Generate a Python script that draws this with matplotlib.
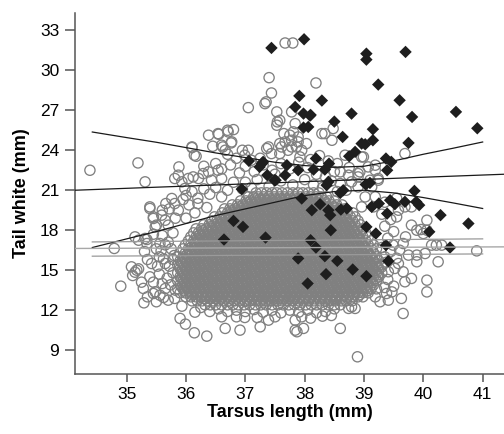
import numpy as np
import matplotlib.pyplot as plt

plt.rcParams['font.family'] = ['Liberation Sans', 'DejaVu Sans']

# black diamonds (group 1)
dark_x = [37.44, 37.99, 39.04, 39.04, 39.70, 39.24, 37.91, 38.29, 37.84, 39.60,
          37.98, 38.10, 38.79, 39.81, 40.55, 38.50, 37.98, 40.91, 39.15, 38.64,
          39.15, 39.02, 39.75, 38.85, 38.75, 38.19, 37.06, 37.30, 37.24, 37.70,
          37.89, 38.41, 38.34, 39.37, 39.46, 39.39, 38.15, 37.37, 37.51, 37.67,
          38.40, 38.37, 36.94, 39.03, 39.10, 38.60, 38.65, 39.85, 37.95, 39.44,
          39.52, 39.69, 39.88, 39.93, 39.25, 39.13, 39.39, 38.12, 38.26, 38.40,
          38.43, 38.61, 38.71, 36.80, 36.96, 36.64, 37.34, 38.44, 39.04, 39.20,
          40.10, 40.29, 40.76, 38.10, 38.19, 39.37, 40.45, 38.34, 37.89, 38.55,
          39.41, 38.81, 38.36, 39.04, 38.05, 38.09, 38.06, 38.96, 37.28, 37.49]
dark_y = [31.68, 32.33, 31.25, 30.80, 31.38, 28.93, 28.08, 27.73, 27.25, 27.75,
          26.75, 26.65, 26.75, 26.50, 26.88, 26.15, 25.70, 25.65, 25.58, 25.00,
          24.75, 24.45, 24.55, 23.88, 23.55, 23.38, 23.20, 23.13, 22.75, 22.88,
          22.50, 23.00, 22.55, 23.38, 23.13, 22.50, 22.55, 22.13, 21.75, 22.13,
          21.63, 21.38, 21.08, 21.43, 21.55, 20.80, 21.00, 20.95, 20.38, 20.25,
          19.95, 20.13, 20.13, 19.88, 20.00, 19.75, 19.25, 19.50, 19.95, 19.50,
          19.13, 19.55, 19.63, 18.70, 18.25, 17.30, 17.45, 18.00, 18.25, 17.75,
          17.88, 19.13, 18.50, 17.25, 16.70, 16.88, 16.70, 16.05, 15.88, 15.70,
          15.68, 15.05, 14.70, 14.55, 14.00, 26.60, 25.75, 24.50, 23.00, 21.75]

# grey open circles (group 2), scattered edge of the cloud
grey_x = [34.38, 35.19, 35.31, 34.79, 34.90,
          35.08, 35.10, 35.17, 35.20, 35.14, 35.28, 35.29, 35.39, 35.42, 35.50,
          35.58, 35.55, 35.62, 35.65, 35.48, 35.45, 35.56, 35.50, 35.65, 35.70,
          35.81, 35.93, 35.20, 35.34, 35.34, 35.14, 35.39, 35.45, 35.59, 35.65,
          35.50, 35.70, 35.76, 35.81, 35.87, 35.31, 35.48, 35.39, 35.45,
          35.60, 35.70, 35.75, 35.80, 35.72, 35.78, 35.68, 35.74, 35.60, 35.55,
          35.82, 35.62, 35.78, 35.82, 35.72, 35.66, 35.56, 35.45, 35.52, 35.35,
          35.30, 35.45, 35.25, 35.35, 35.60, 35.78, 35.65,
          36.38, 36.55, 36.70, 36.80, 36.10, 36.14, 36.60, 36.62, 36.76, 35.88,
          35.81, 35.87, 35.93, 35.98, 36.04, 36.12, 36.21, 36.29, 36.38, 36.43,
          36.54, 36.60, 36.00, 36.10, 36.20, 36.30, 36.40, 36.50, 36.60, 36.70,
          36.80, 36.90, 36.75, 36.50, 36.30, 36.85, 36.20, 36.35, 36.05, 35.95,
          36.15, 36.00, 36.60, 36.70, 36.95, 36.45, 36.10, 36.17,
          36.54, 36.71, 36.77, 36.66, 37.05, 36.99, 37.10, 37.58, 37.53, 37.84,
          37.75, 37.67, 37.39, 37.44, 37.58, 37.61, 37.78, 37.89, 37.95, 38.03,
          38.29, 38.46, 37.53, 37.05, 37.35, 37.40, 37.44, 37.33, 37.67, 37.80,
          38.19, 37.54, 37.78, 37.65, 37.81, 37.89, 37.78, 38.34, 38.48, 37.36,
          37.58, 37.72, 37.86, 37.92, 38.68, 38.99, 39.19, 39.69, 38.60, 38.74,
          38.90, 39.10, 39.24, 38.90, 38.79, 38.90,
          37.00, 37.15, 37.30, 37.45, 37.60, 37.75, 37.90, 38.05, 38.20, 38.35,
          38.50, 38.45, 38.60, 38.70, 37.00, 37.20, 37.40, 37.60, 37.80, 38.00,
          38.15, 38.30, 36.95, 37.10, 38.55, 37.25, 37.50, 38.10, 38.25, 38.40,
          38.55, 38.75,
          38.96, 39.07, 38.93, 39.19, 39.24, 39.13, 39.02, 39.19, 38.96, 39.16,
          39.58, 39.69, 39.80, 39.89, 40.06, 40.06, 39.96, 40.00, 39.80,
          40.90, 40.25, 39.89, 39.89, 40.03, 39.75, 39.66, 40.14, 40.31, 39.49,
          40.06, 40.06, 39.80, 39.69, 39.63, 39.66, 39.47, 39.38, 39.41, 39.27,
          39.19, 39.52, 39.41, 39.30, 39.58, 38.85, 38.89, 39.66, 40.22,
          39.35, 39.45, 39.40, 39.50, 39.35, 39.45, 39.30, 39.55, 39.35, 39.55,
          39.40, 39.50, 39.35, 39.60, 39.55, 39.70, 39.30, 39.38, 38.79, 38.74,
          35.90, 35.99, 36.14, 36.35, 36.60, 36.66, 36.85, 36.99, 36.91, 37.25,
          37.39, 37.84, 37.84, 37.98, 38.60, 37.87,
          36.40, 36.55, 36.70, 36.85, 37.00, 37.15, 37.30, 37.45, 37.60, 37.75,
          37.90, 38.05, 38.20, 38.35, 38.50, 38.30, 38.45, 36.25, 36.15, 37.20,
          37.50, 37.95, 38.10]
grey_y = [22.50, 23.05, 21.63, 16.63, 13.80,
          15.25, 14.60, 15.00, 15.10, 14.85, 13.63, 12.55, 14.50, 15.50, 16.60,
          16.45, 16.00, 15.85, 15.50, 13.37, 13.25, 13.12, 12.63, 13.62, 12.75,
          12.88, 12.30, 17.25, 17.30, 17.00, 17.50, 19.63, 18.88, 19.13, 18.75,
          18.38, 18.38, 20.38, 20.00, 19.50, 17.38, 18.25, 19.75, 19.00,
          17.60, 17.10, 16.60, 16.10, 15.30, 14.80, 14.40, 13.90, 14.00, 14.70,
          13.50, 12.95, 17.80, 18.90, 19.60, 20.00, 17.00, 17.70, 15.30, 15.80,
          16.40, 14.10, 14.10, 13.00, 19.50, 15.80, 16.90,
          25.13, 25.20, 25.50, 25.55, 24.20, 23.63, 24.38, 24.25, 24.55, 22.75,
          21.88, 22.13, 21.63, 21.13, 21.88, 22.00, 21.88, 22.25, 22.38, 21.75,
          22.50, 21.88, 20.60, 20.90, 20.40, 21.10, 20.70, 21.20, 20.50, 21.00,
          21.60, 22.30, 22.90, 23.00, 22.80, 23.40, 20.00, 19.70, 19.90, 20.30,
          19.30, 18.90, 22.60, 23.70, 24.00, 24.30, 24.25, 23.55,
          25.25, 25.38, 24.63, 24.00, 24.00, 23.63, 23.25, 26.25, 25.88, 26.00,
          25.13, 24.63, 24.25, 23.75, 23.75, 24.25, 24.25, 24.63, 24.00, 24.50,
          25.25, 24.75, 26.88, 27.20, 27.63, 29.45, 28.30, 27.50, 32.05, 32.05,
          29.05, 26.13, 26.88, 25.25, 25.38, 25.00, 24.75, 25.25, 25.63, 24.13,
          24.50, 24.00, 24.25, 23.50, 23.63, 23.50, 22.88, 23.75, 22.38, 22.13,
          22.25, 21.75, 21.88, 22.00, 21.63, 21.25,
          22.80, 22.40, 22.90, 22.50, 23.00, 22.60, 23.10, 22.70, 22.20, 22.00,
          22.40, 21.70, 21.50, 21.00, 21.60, 21.80, 21.30, 21.70, 21.40, 21.80,
          21.40, 21.20, 21.10, 21.20, 20.90, 23.40, 22.20, 23.30, 23.60, 23.20,
          23.00, 22.70,
          23.50, 22.75, 22.38, 22.50, 21.75, 21.25, 20.50, 20.50, 19.75, 19.75,
          19.50, 19.75, 18.38, 18.00, 18.75, 18.00, 18.05, 17.75, 19.75,
          16.45, 15.63, 15.63, 16.13, 16.25, 16.13, 17.00, 16.88, 16.88, 16.88,
          14.25, 13.37, 14.38, 14.13, 12.88, 11.75, 13.37, 13.25, 12.75, 12.63,
          13.00, 15.13, 14.88, 15.25, 15.50, 12.13, 8.50, 14.88, 16.88,
          16.00, 16.40, 17.40, 17.90, 18.30, 18.80, 19.20, 19.00, 20.10, 20.40,
          14.30, 13.80, 13.70, 16.50, 15.90, 17.50, 16.70, 15.60, 12.25, 12.13,
          11.38, 10.95, 10.30, 10.05, 11.50, 10.63, 11.50, 11.45, 10.50, 10.75,
          11.25, 10.50, 11.25, 10.63, 10.63, 10.38,
          11.90, 12.10, 11.90, 12.00, 11.90, 12.05, 11.85, 12.00, 11.80, 12.00,
          11.85, 12.00, 11.80, 11.90, 12.10, 11.55, 11.60, 12.20, 11.85, 11.45,
          11.50, 11.50, 11.40]

# grey open circles, dense centre of the cloud (one row per y value)
core_y = [12.4, 12.7, 13.0, 13.3, 13.6, 13.9, 14.2, 14.5, 14.8, 15.1,
          15.4, 15.7, 16.0, 16.3, 16.6, 16.9, 17.2, 17.5, 17.8, 18.1,
          18.4, 18.7, 19.0, 19.3, 19.6, 19.9, 20.2, 20.5, 20.8]
core_x = [
    [36.32, 36.41, 36.5, 36.6, 36.7, 36.79, 36.88, 36.98, 37.07, 37.17, 37.26, 37.35, 37.45, 37.55,
     37.64, 37.73, 37.83, 37.92, 38.02, 38.11, 38.2, 38.3, 38.4, 38.5, 38.6],
    [36.1, 36.19, 36.27, 36.36, 36.46, 36.55, 36.63, 36.72, 36.82, 36.9, 36.99, 37.08, 37.18, 37.26,
     37.35, 37.44, 37.54, 37.62, 37.71, 37.8, 37.9, 37.98, 38.07, 38.16, 38.26, 38.34, 38.43, 38.52,
     38.62, 38.7, 38.8],
    [36.0, 36.08, 36.17, 36.26, 36.34, 36.43, 36.52, 36.61, 36.7, 36.78, 36.87, 36.96, 37.05, 37.14,
     37.22, 37.31, 37.4, 37.49, 37.58, 37.66, 37.75, 37.84, 37.93, 38.02, 38.1, 38.19, 38.28, 38.37,
     38.46, 38.54, 38.63, 38.72, 38.81, 38.9, 38.98],
    [35.9, 35.99, 36.08, 36.17, 36.26, 36.34, 36.43, 36.52, 36.61, 36.7, 36.78, 36.87, 36.96, 37.05,
     37.14, 37.22, 37.31, 37.4, 37.49, 37.58, 37.66, 37.75, 37.84, 37.93, 38.02, 38.1, 38.19, 38.28,
     38.37, 38.46, 38.54, 38.63, 38.72, 38.81, 38.9, 38.98, 39.07],
    [35.86, 35.95, 36.04, 36.13, 36.21, 36.3, 36.39, 36.48, 36.57, 36.65, 36.74, 36.83, 36.92, 37.01,
     37.09, 37.18, 37.27, 37.36, 37.45, 37.53, 37.62, 37.71, 37.8, 37.89, 37.97, 38.06, 38.15, 38.24,
     38.33, 38.41, 38.5, 38.59, 38.68, 38.77, 38.85, 38.94, 39.03, 39.12, 39.21],
    [35.9, 35.99, 36.08, 36.17, 36.26, 36.34, 36.43, 36.52, 36.61, 36.7, 36.78, 36.87, 36.96, 37.05,
     37.14, 37.22, 37.31, 37.4, 37.49, 37.58, 37.66, 37.75, 37.84, 37.93, 38.02, 38.1, 38.19, 38.28,
     38.37, 38.46, 38.54, 38.63, 38.72, 38.81, 38.9, 38.98, 39.07, 39.16],
    [35.86, 35.95, 36.04, 36.13, 36.21, 36.3, 36.39, 36.48, 36.57, 36.65, 36.74, 36.83, 36.92, 37.01,
     37.09, 37.18, 37.27, 37.36, 37.45, 37.53, 37.62, 37.71, 37.8, 37.89, 37.97, 38.06, 38.15, 38.24,
     38.33, 38.41, 38.5, 38.59, 38.68, 38.77, 38.85, 38.94, 39.03, 39.12, 39.21],
    [35.9, 35.99, 36.08, 36.17, 36.26, 36.34, 36.43, 36.52, 36.61, 36.7, 36.78, 36.87, 36.96, 37.05,
     37.14, 37.22, 37.31, 37.4, 37.49, 37.58, 37.66, 37.75, 37.84, 37.93, 38.02, 38.1, 38.19, 38.28,
     38.37, 38.46, 38.54, 38.63, 38.72, 38.81, 38.9, 38.98, 39.07, 39.16, 39.25],
    [35.86, 35.95, 36.04, 36.13, 36.21, 36.3, 36.39, 36.48, 36.57, 36.65, 36.74, 36.83, 36.92, 37.01,
     37.09, 37.18, 37.27, 37.36, 37.45, 37.53, 37.62, 37.71, 37.8, 37.89, 37.97, 38.06, 38.15, 38.24,
     38.33, 38.41, 38.5, 38.59, 38.68, 38.77, 38.85, 38.94, 39.03, 39.12, 39.21, 39.3],
    [35.9, 35.99, 36.08, 36.17, 36.26, 36.34, 36.43, 36.52, 36.61, 36.7, 36.78, 36.87, 36.96, 37.05,
     37.14, 37.22, 37.31, 37.4, 37.49, 37.58, 37.66, 37.75, 37.84, 37.93, 38.02, 38.1, 38.19, 38.28,
     38.37, 38.46, 38.54, 38.63, 38.72, 38.81, 38.9, 38.98, 39.07, 39.16, 39.25],
    [35.86, 35.95, 36.04, 36.13, 36.21, 36.3, 36.39, 36.48, 36.57, 36.65, 36.74, 36.83, 36.92, 37.01,
     37.09, 37.18, 37.27, 37.36, 37.45, 37.53, 37.62, 37.71, 37.8, 37.89, 37.97, 38.06, 38.15, 38.24,
     38.33, 38.41, 38.5, 38.59, 38.68, 38.77, 38.85, 38.94, 39.03, 39.12, 39.21, 39.3],
    [35.9, 35.99, 36.08, 36.17, 36.26, 36.34, 36.43, 36.52, 36.61, 36.7, 36.78, 36.87, 36.96, 37.05,
     37.14, 37.22, 37.31, 37.4, 37.49, 37.58, 37.66, 37.75, 37.84, 37.93, 38.02, 38.1, 38.19, 38.28,
     38.37, 38.46, 38.54, 38.63, 38.72, 38.81, 38.9, 38.98, 39.07, 39.16, 39.25],
    [35.86, 35.95, 36.04, 36.13, 36.21, 36.3, 36.39, 36.48, 36.57, 36.65, 36.74, 36.83, 36.92, 37.01,
     37.09, 37.18, 37.27, 37.36, 37.45, 37.53, 37.62, 37.71, 37.8, 37.89, 37.97, 38.06, 38.15, 38.24,
     38.33, 38.41, 38.5, 38.59, 38.68, 38.77, 38.85, 38.94, 39.03, 39.12, 39.21],
    [35.9, 35.99, 36.08, 36.17, 36.26, 36.34, 36.43, 36.52, 36.61, 36.7, 36.78, 36.87, 36.96, 37.05,
     37.14, 37.22, 37.31, 37.4, 37.49, 37.58, 37.66, 37.75, 37.84, 37.93, 38.02, 38.1, 38.19, 38.28,
     38.37, 38.46, 38.54, 38.63, 38.72, 38.81, 38.9, 38.98, 39.07, 39.16],
    [35.95, 36.04, 36.13, 36.21, 36.3, 36.39, 36.48, 36.57, 36.65, 36.74, 36.83, 36.92, 37.01,
     37.09, 37.18, 37.27, 37.36, 37.45, 37.53, 37.62, 37.71, 37.8, 37.89, 37.97, 38.06, 38.15, 38.24,
     38.33, 38.41, 38.5, 38.59, 38.68, 38.77, 38.85, 38.94, 39.03, 39.12, 39.21],
    [35.99, 36.08, 36.17, 36.26, 36.34, 36.43, 36.52, 36.61, 36.7, 36.78, 36.87, 36.96, 37.05,
     37.14, 37.22, 37.31, 37.4, 37.49, 37.58, 37.66, 37.75, 37.84, 37.93, 38.02, 38.1, 38.19, 38.28,
     38.37, 38.46, 38.54, 38.63, 38.72, 38.81, 38.9, 38.98, 39.07, 39.16],
    [36.04, 36.13, 36.21, 36.3, 36.39, 36.48, 36.57, 36.65, 36.74, 36.83, 36.92, 37.01,
     37.09, 37.18, 37.27, 37.36, 37.45, 37.53, 37.62, 37.71, 37.8, 37.89, 37.97, 38.06, 38.15, 38.24,
     38.33, 38.41, 38.5, 38.59, 38.68, 38.77, 38.85, 38.94, 39.03, 39.12],
    [36.08, 36.17, 36.26, 36.34, 36.43, 36.52, 36.61, 36.7, 36.78, 36.87, 36.96, 37.05,
     37.14, 37.22, 37.31, 37.4, 37.49, 37.58, 37.66, 37.75, 37.84, 37.93, 38.02, 38.1, 38.19, 38.28,
     38.37, 38.46, 38.54, 38.63, 38.72, 38.81, 38.9, 38.98, 39.07],
    [36.13, 36.21, 36.3, 36.39, 36.48, 36.57, 36.65, 36.74, 36.83, 36.92, 37.01,
     37.09, 37.18, 37.27, 37.36, 37.45, 37.53, 37.62, 37.71, 37.8, 37.89, 37.97, 38.06, 38.15, 38.24,
     38.33, 38.41, 38.5, 38.59, 38.68, 38.77, 38.85, 38.94, 39.03],
    [36.17, 36.26, 36.34, 36.43, 36.52, 36.61, 36.7, 36.78, 36.87, 36.96, 37.05,
     37.14, 37.22, 37.31, 37.4, 37.49, 37.58, 37.66, 37.75, 37.84, 37.93, 38.02, 38.1, 38.19, 38.28,
     38.37, 38.46, 38.54, 38.63, 38.72, 38.81, 38.9, 38.98],
    [36.3, 36.39, 36.48, 36.57, 36.65, 36.74, 36.83, 36.92, 37.01,
     37.09, 37.18, 37.27, 37.36, 37.45, 37.53, 37.62, 37.71, 37.8, 37.89, 37.97, 38.06, 38.15, 38.24,
     38.33, 38.41, 38.5, 38.59, 38.68, 38.77, 38.85, 38.94],
    [36.43, 36.52, 36.61, 36.7, 36.78, 36.87, 36.96, 37.05,
     37.14, 37.22, 37.31, 37.4, 37.49, 37.58, 37.66, 37.75, 37.84, 37.93, 38.02, 38.1, 38.19, 38.28,
     38.37, 38.46, 38.54, 38.63, 38.72, 38.81, 38.9],
    [36.48, 36.57, 36.65, 36.74, 36.83, 36.92, 37.01,
     37.09, 37.18, 37.27, 37.36, 37.45, 37.53, 37.62, 37.71, 37.8, 37.89, 37.97, 38.06, 38.15, 38.24,
     38.33, 38.41, 38.5, 38.59, 38.68, 38.77, 38.85],
    [36.61, 36.7, 36.78, 36.87, 36.96, 37.05,
     37.14, 37.22, 37.31, 37.4, 37.49, 37.58, 37.66, 37.75, 37.84, 37.93, 38.02, 38.1, 38.19, 38.28,
     38.37, 38.46, 38.54, 38.63, 38.72, 38.81],
    [36.65, 36.74, 36.83, 36.92, 37.01,
     37.09, 37.18, 37.27, 37.36, 37.45, 37.53, 37.62, 37.71, 37.8, 37.89, 37.97, 38.06, 38.15, 38.24,
     38.33, 38.41, 38.5, 38.59, 38.68],
    [36.78, 36.87, 36.96, 37.05,
     37.14, 37.22, 37.31, 37.4, 37.49, 37.58, 37.66, 37.75, 37.84, 37.93, 38.02, 38.1, 38.19, 38.28,
     38.37, 38.46, 38.54, 38.63],
    [36.92, 37.01, 37.09, 37.18, 37.27, 37.36, 37.45, 37.53, 37.62, 37.71, 37.8, 37.89, 37.97, 38.06,
     38.15, 38.24, 38.33, 38.41, 38.5],
    [37.05, 37.14, 37.22, 37.31, 37.4, 37.49, 37.58, 37.66, 37.75, 37.84, 37.93, 38.02, 38.1, 38.19,
     38.28, 38.37],
    [37.18, 37.27, 37.36, 37.45, 37.53, 37.62, 37.71, 37.8, 37.89, 37.97, 38.06, 38.15, 38.24],
]

# second, interleaved layer of the dense centre
core2_y = [12.85, 13.15, 13.45, 13.75, 14.05, 14.35, 14.65, 14.95, 15.25, 15.55,
           15.85, 16.15, 16.45, 16.75, 17.05, 17.35, 17.65, 17.95, 18.25, 18.55,
           18.85, 19.15, 19.45, 19.75, 20.05, 20.35]
core2_x = [
    [36.32, 36.41, 36.5, 36.59, 36.67, 36.76, 36.85, 36.94, 37.03, 37.11, 37.2, 37.29, 37.38, 37.47,
     37.55, 37.64, 37.73, 37.82, 37.91, 37.99, 38.08, 38.17, 38.26, 38.35, 38.43, 38.52, 38.61],
    [36.1, 36.19, 36.28, 36.37, 36.45, 36.54, 36.63, 36.72, 36.81, 36.89, 36.98, 37.07, 37.16, 37.25,
     37.33, 37.42, 37.51, 37.6, 37.69, 37.77, 37.86, 37.95, 38.04, 38.13, 38.21, 38.3, 38.39, 38.48,
     38.57, 38.65, 38.74, 38.83, 38.92],
    [35.97, 36.06, 36.15, 36.23, 36.32, 36.41, 36.5, 36.59, 36.67, 36.76, 36.85, 36.94, 37.03, 37.11,
     37.2, 37.29, 37.38, 37.47, 37.55, 37.64, 37.73, 37.82, 37.91, 37.99, 38.08, 38.17, 38.26, 38.35,
     38.43, 38.52, 38.61, 38.7, 38.79, 38.87, 38.96, 39.05],
    [35.93, 36.02, 36.1, 36.19, 36.28, 36.37, 36.45, 36.54, 36.63, 36.72, 36.81, 36.89, 36.98, 37.07,
     37.16, 37.25, 37.33, 37.42, 37.51, 37.6, 37.69, 37.77, 37.86, 37.95, 38.04, 38.13, 38.21, 38.3,
     38.39, 38.48, 38.57, 38.65, 38.74, 38.83, 38.92, 39.01, 39.1],
    [35.97, 36.06, 36.15, 36.23, 36.32, 36.41, 36.5, 36.59, 36.67, 36.76, 36.85, 36.94, 37.03, 37.11,
     37.2, 37.29, 37.38, 37.47, 37.55, 37.64, 37.73, 37.82, 37.91, 37.99, 38.08, 38.17, 38.26, 38.35,
     38.43, 38.52, 38.61, 38.7, 38.79, 38.87, 38.96, 39.05, 39.14],
    [35.93, 36.02, 36.1, 36.19, 36.28, 36.37, 36.45, 36.54, 36.63, 36.72, 36.81, 36.89, 36.98, 37.07,
     37.16, 37.25, 37.33, 37.42, 37.51, 37.6, 37.69, 37.77, 37.86, 37.95, 38.04, 38.13, 38.21, 38.3,
     38.39, 38.48, 38.57, 38.65, 38.74, 38.83, 38.92, 39.01, 39.1, 39.19],
    [35.97, 36.06, 36.15, 36.23, 36.32, 36.41, 36.5, 36.59, 36.67, 36.76, 36.85, 36.94, 37.03, 37.11,
     37.2, 37.29, 37.38, 37.47, 37.55, 37.64, 37.73, 37.82, 37.91, 37.99, 38.08, 38.17, 38.26, 38.35,
     38.43, 38.52, 38.61, 38.7, 38.79, 38.87, 38.96, 39.05, 39.14, 39.23],
    [35.93, 36.02, 36.1, 36.19, 36.28, 36.37, 36.45, 36.54, 36.63, 36.72, 36.81, 36.89, 36.98, 37.07,
     37.16, 37.25, 37.33, 37.42, 37.51, 37.6, 37.69, 37.77, 37.86, 37.95, 38.04, 38.13, 38.21, 38.3,
     38.39, 38.48, 38.57, 38.65, 38.74, 38.83, 38.92, 39.01, 39.1, 39.19],
    [35.97, 36.06, 36.15, 36.23, 36.32, 36.41, 36.5, 36.59, 36.67, 36.76, 36.85, 36.94, 37.03, 37.11,
     37.2, 37.29, 37.38, 37.47, 37.55, 37.64, 37.73, 37.82, 37.91, 37.99, 38.08, 38.17, 38.26, 38.35,
     38.43, 38.52, 38.61, 38.7, 38.79, 38.87, 38.96, 39.05, 39.14, 39.23],
    [35.93, 36.02, 36.1, 36.19, 36.28, 36.37, 36.45, 36.54, 36.63, 36.72, 36.81, 36.89, 36.98, 37.07,
     37.16, 37.25, 37.33, 37.42, 37.51, 37.6, 37.69, 37.77, 37.86, 37.95, 38.04, 38.13, 38.21, 38.3,
     38.39, 38.48, 38.57, 38.65, 38.74, 38.83, 38.92, 39.01, 39.1, 39.19],
    [35.97, 36.06, 36.15, 36.23, 36.32, 36.41, 36.5, 36.59, 36.67, 36.76, 36.85, 36.94, 37.03, 37.11,
     37.2, 37.29, 37.38, 37.47, 37.55, 37.64, 37.73, 37.82, 37.91, 37.99, 38.08, 38.17, 38.26, 38.35,
     38.43, 38.52, 38.61, 38.7, 38.79, 38.87, 38.96, 39.05, 39.14],
    [36.02, 36.1, 36.19, 36.28, 36.37, 36.45, 36.54, 36.63, 36.72, 36.81, 36.89, 36.98, 37.07,
     37.16, 37.25, 37.33, 37.42, 37.51, 37.6, 37.69, 37.77, 37.86, 37.95, 38.04, 38.13, 38.21, 38.3,
     38.39, 38.48, 38.57, 38.65, 38.74, 38.83, 38.92, 39.01, 39.1],
    [36.06, 36.15, 36.23, 36.32, 36.41, 36.5, 36.59, 36.67, 36.76, 36.85, 36.94, 37.03, 37.11,
     37.2, 37.29, 37.38, 37.47, 37.55, 37.64, 37.73, 37.82, 37.91, 37.99, 38.08, 38.17, 38.26, 38.35,
     38.43, 38.52, 38.61, 38.7, 38.79, 38.87, 38.96, 39.05],
    [36.1, 36.19, 36.28, 36.37, 36.45, 36.54, 36.63, 36.72, 36.81, 36.89, 36.98, 37.07,
     37.16, 37.25, 37.33, 37.42, 37.51, 37.6, 37.69, 37.77, 37.86, 37.95, 38.04, 38.13, 38.21, 38.3,
     38.39, 38.48, 38.57, 38.65, 38.74, 38.83, 38.92, 39.01],
    [36.15, 36.23, 36.32, 36.41, 36.5, 36.59, 36.67, 36.76, 36.85, 36.94, 37.03, 37.11,
     37.2, 37.29, 37.38, 37.47, 37.55, 37.64, 37.73, 37.82, 37.91, 37.99, 38.08, 38.17, 38.26, 38.35,
     38.43, 38.52, 38.61, 38.7, 38.79, 38.87, 38.96],
    [36.19, 36.28, 36.37, 36.45, 36.54, 36.63, 36.72, 36.81, 36.89, 36.98, 37.07,
     37.16, 37.25, 37.33, 37.42, 37.51, 37.6, 37.69, 37.77, 37.86, 37.95, 38.04, 38.13, 38.21, 38.3,
     38.39, 38.48, 38.57, 38.65, 38.74, 38.83, 38.92],
    [36.23, 36.32, 36.41, 36.5, 36.59, 36.67, 36.76, 36.85, 36.94, 37.03, 37.11,
     37.2, 37.29, 37.38, 37.47, 37.55, 37.64, 37.73, 37.82, 37.91, 37.99, 38.08, 38.17, 38.26, 38.35,
     38.43, 38.52, 38.61, 38.7, 38.79, 38.87],
    [36.28, 36.37, 36.45, 36.54, 36.63, 36.72, 36.81, 36.89, 36.98, 37.07,
     37.16, 37.25, 37.33, 37.42, 37.51, 37.6, 37.69, 37.77, 37.86, 37.95, 38.04, 38.13, 38.21, 38.3,
     38.39, 38.48, 38.57, 38.65, 38.74, 38.83],
    [36.41, 36.5, 36.59, 36.67, 36.76, 36.85, 36.94, 37.03, 37.11,
     37.2, 37.29, 37.38, 37.47, 37.55, 37.64, 37.73, 37.82, 37.91, 37.99, 38.08, 38.17, 38.26, 38.35,
     38.43, 38.52, 38.61, 38.7, 38.79],
    [36.54, 36.63, 36.72, 36.81, 36.89, 36.98, 37.07,
     37.16, 37.25, 37.33, 37.42, 37.51, 37.6, 37.69, 37.77, 37.86, 37.95, 38.04, 38.13, 38.21, 38.3,
     38.39, 38.48, 38.57, 38.65, 38.74],
    [36.59, 36.67, 36.76, 36.85, 36.94, 37.03, 37.11,
     37.2, 37.29, 37.38, 37.47, 37.55, 37.64, 37.73, 37.82, 37.91, 37.99, 38.08, 38.17, 38.26, 38.35,
     38.43, 38.52, 38.61, 38.7],
    [36.72, 36.81, 36.89, 36.98, 37.07,
     37.16, 37.25, 37.33, 37.42, 37.51, 37.6, 37.69, 37.77, 37.86, 37.95, 38.04, 38.13, 38.21, 38.3,
     38.39, 38.48, 38.57, 38.65],
    [36.76, 36.85, 36.94, 37.03, 37.11,
     37.2, 37.29, 37.38, 37.47, 37.55, 37.64, 37.73, 37.82, 37.91, 37.99, 38.08, 38.17, 38.26, 38.35,
     38.43, 38.52],
    [36.89, 36.98, 37.07, 37.16, 37.25, 37.33, 37.42, 37.51, 37.6, 37.69, 37.77, 37.86, 37.95, 38.04,
     38.13, 38.21, 38.3, 38.39, 38.48],
    [37.03, 37.11, 37.2, 37.29, 37.38, 37.47, 37.55, 37.64, 37.73, 37.82, 37.91, 37.99, 38.08, 38.17,
     38.26, 38.35],
    [37.16, 37.25, 37.33, 37.42, 37.51, 37.6, 37.69, 37.77, 37.86, 37.95, 38.04, 38.13, 38.21],
]

# regression lines and 95% bands
dark_fit_x = [34.13, 41.36]
dark_fit_y = [21.0, 22.2]
band_x = [34.42, 35.0, 35.5, 36.0, 36.5, 37.0, 37.5, 38.0, 38.5, 39.0, 39.5, 40.0, 40.5, 41.0]
dark_hi = [25.37, 24.95, 24.6, 24.2, 23.8, 23.45, 23.1, 22.85, 22.72, 22.8, 23.2, 23.7, 24.15, 24.62]
dark_lo = [16.7, 17.35, 17.9, 18.5, 19.1, 19.6, 20.1, 20.6, 20.9, 21.0, 20.8, 20.45, 20.05, 19.63]

grey_fit_x = [34.13, 41.36]
grey_fit_y = [16.63, 16.75]
grey_band_x = [34.42, 41.0]
grey_hi = [17.12, 17.35]
grey_lo = [16.05, 16.22]

xticks = [35, 36, 37, 38, 39, 40, 41]
yticks = [9, 12, 15, 18, 21, 24, 27, 30, 33]

fig = plt.figure(figsize=(5.04, 4.34), dpi=100)
ax = fig.add_axes([0.149, 0.138, 0.851, 0.832])

cx = [x for row in core_x for x in row] + [x for row in core2_x for x in row]
cy = ([y for y, row in zip(core_y, core_x) for _ in row]
      + [y for y, row in zip(core2_y, core2_x) for _ in row])

circ_col = "#808080"
ax.scatter(cx, cy, s=54, facecolors="none", edgecolors=circ_col, linewidths=0.95, zorder=2)
ax.scatter(grey_x, grey_y, s=54, facecolors="none", edgecolors=circ_col, linewidths=0.95, zorder=2)

line_col = "#1a1a1a"
ax.plot(dark_fit_x, dark_fit_y, color=line_col, lw=0.9, zorder=3)
ax.plot(band_x, dark_hi, color=line_col, lw=0.9, zorder=3)
ax.plot(band_x, dark_lo, color=line_col, lw=0.9, zorder=3)

ax.scatter(dark_x, dark_y, s=40, marker="D", color="#1e1e1e", edgecolors="none", zorder=4)

gl = "#9a9a9a"
ax.plot(grey_fit_x, grey_fit_y, color="#a8a8a8", lw=1.0, zorder=5)
ax.plot(grey_band_x, grey_hi, color=gl, lw=0.9, zorder=5)
ax.plot(grey_band_x, grey_lo, color=gl, lw=0.9, zorder=5)

ax.set_xlim(34.13, 41.36)
ax.set_ylim(7.2, 34.3)
ax.set_xticks(xticks)
ax.set_yticks(yticks)

for s in ["top", "right"]:
    ax.spines[s].set_visible(False)
for s in ["left", "bottom"]:
    ax.spines[s].set_color("#555555")
    ax.spines[s].set_linewidth(1.1)

ax.tick_params(axis="both", colors="#555555", labelcolor="black", labelsize=12.5, width=1.1)
ax.tick_params(axis="y", length=7, pad=4.5)
ax.tick_params(axis="x", length=5.5, pad=4)

ax.set_xlabel("Tarsus length (mm)", fontsize=13, fontweight="bold", labelpad=1)
ax.set_ylabel("Tail white (mm)", fontsize=13, fontweight="bold", labelpad=7)

fig.savefig("out.png", dpi=100)
